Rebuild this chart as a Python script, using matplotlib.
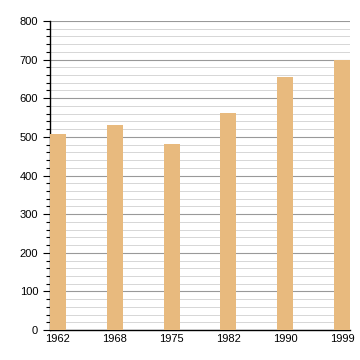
import matplotlib
matplotlib.use("Agg")
import matplotlib.pyplot as plt
from matplotlib.ticker import MultipleLocator

plt.rcParams['font.family'] = ['Liberation Sans', 'DejaVu Sans']

years = ['1962', '1968', '1975', '1982', '1990', '1999']
population = [507, 530, 481, 561, 655, 700]

fig = plt.figure(figsize=(3.6, 3.6), dpi=100)
ax = fig.add_axes([0.139, 0.083, 0.833, 0.859])

pos = list(range(len(years)))
ax.bar(pos, population, width=0.28, align='edge', color='#e8ba7e', zorder=3)

ax.set_xlim(0, len(years) - 1 + 0.28)
ax.set_ylim(0, 800)
ax.set_xticks([p + 0.14 for p in pos])
ax.set_xticklabels(years, fontsize=8)
ax.tick_params(axis='x', length=0, pad=3)

ax.yaxis.set_major_locator(MultipleLocator(100))
ax.yaxis.set_minor_locator(MultipleLocator(20))
ax.tick_params(axis='y', which='major', length=5, labelsize=8, width=0.8)
ax.tick_params(axis='y', which='minor', length=3, width=0.8)
ax.grid(axis='y', which='major', color='#999999', linewidth=0.8, zorder=0)
ax.grid(axis='y', which='minor', color='#d0d0d0', linewidth=0.6, zorder=0)

for s in ['top', 'right']:
    ax.spines[s].set_visible(False)
ax.spines['left'].set_linewidth(1)
ax.spines['bottom'].set_linewidth(1)

fig.savefig('out.png', dpi=100)
